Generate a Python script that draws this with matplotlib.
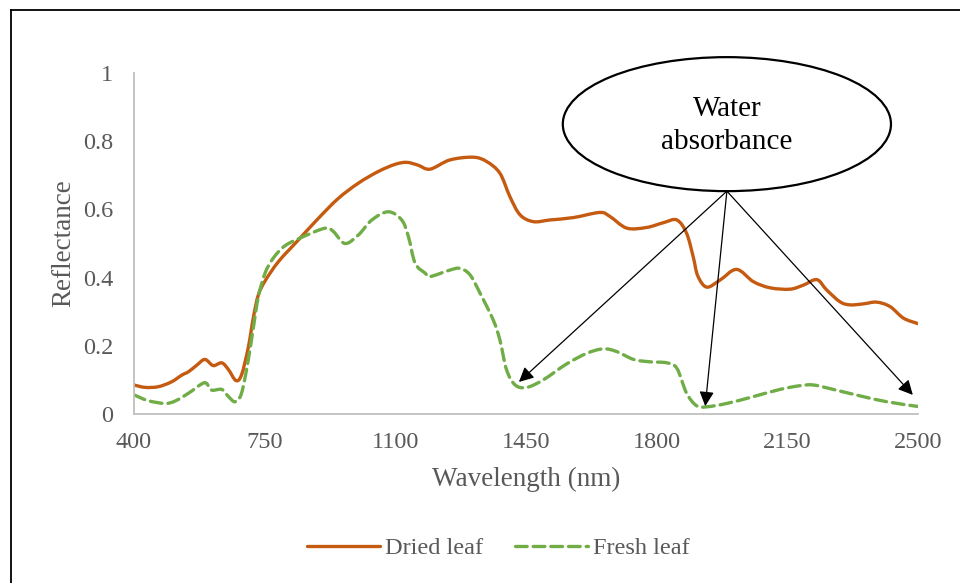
import matplotlib
matplotlib.use("Agg")
import matplotlib.pyplot as plt
import numpy as np
from matplotlib.lines import Line2D
from matplotlib.patches import Ellipse, PathPatch
from matplotlib.path import Path

plt.rcParams["font.family"] = ["Liberation Serif", "DejaVu Serif"]

# reflectance spectra, wavelength in nm
dried_wl = [400, 430, 465, 500, 528, 546, 568, 590, 612, 635, 653, 673, 688,
            706, 720, 733, 751, 787, 840, 894, 947, 1001, 1054, 1099, 1130,
            1160, 1193, 1246, 1309, 1345, 1380, 1407, 1434, 1470, 1514, 1577,
            1648, 1675, 1720, 1773, 1818, 1854, 1880, 1898, 1910, 1934, 1970,
            2014, 2059, 2104, 2157, 2193, 2229, 2255, 2291, 2318, 2354, 2389,
            2425, 2461, 2500]
dried_refl = [0.085, 0.078, 0.080, 0.094, 0.114, 0.124, 0.143, 0.160, 0.142,
              0.150, 0.130, 0.098, 0.115, 0.195, 0.285, 0.349, 0.390, 0.447,
              0.510, 0.574, 0.632, 0.677, 0.711, 0.732, 0.738, 0.730, 0.718,
              0.745, 0.753, 0.740, 0.706, 0.637, 0.584, 0.564, 0.569, 0.576,
              0.591, 0.579, 0.545, 0.547, 0.561, 0.569, 0.530, 0.460, 0.405,
              0.372, 0.393, 0.424, 0.388, 0.370, 0.366, 0.378, 0.394, 0.364,
              0.329, 0.320, 0.323, 0.328, 0.315, 0.281, 0.265]

fresh_wl = [400, 438, 483, 510, 546, 581, 594, 608, 635, 653, 671, 688, 706,
            720, 733, 751, 773, 804, 849, 912, 934, 965, 1001, 1037, 1081,
            1117, 1135, 1153, 1180, 1193, 1246, 1273, 1300, 1327, 1362, 1380,
            1398, 1421, 1452, 1496, 1559, 1613, 1657, 1693, 1738, 1782, 1827,
            1854, 1880, 1907, 1934, 1988, 2059, 2130, 2184, 2220, 2273, 2345,
            2416, 2500]
fresh_refl = [0.056, 0.039, 0.031, 0.038, 0.061, 0.088, 0.090, 0.070, 0.072,
              0.051, 0.036, 0.061, 0.158, 0.256, 0.344, 0.413, 0.457, 0.493,
              0.518, 0.545, 0.535, 0.500, 0.525, 0.569, 0.593, 0.569, 0.520,
              0.442, 0.413, 0.403, 0.422, 0.427, 0.408, 0.354, 0.276, 0.217,
              0.129, 0.085, 0.078, 0.100, 0.147, 0.178, 0.191, 0.183, 0.160,
              0.153, 0.150, 0.134, 0.061, 0.024, 0.021, 0.031, 0.051, 0.072,
              0.083, 0.085, 0.072, 0.053, 0.036, 0.022]

x_ticks = [400, 750, 1100, 1450, 1800, 2150, 2500]
y_ticks = [0, 0.2, 0.4, 0.6, 0.8, 1]
y_tick_labels = ["0", "0.2", "0.4", "0.6", "0.8", "1"]

# water absorption bands pointed at from the callout
water_bands = [(1431, 0.094), (1930, 0.023), (2486, 0.056)]

grey = "#595959"
dried_color = "#C55A11"
fresh_color = "#70AD47"
fresh_dash = (0, (3.5, 1.8))


def smoothed_path(x, y):
    """Bezier path through the points, like a spreadsheet 'smoothed line'."""
    pts = np.column_stack([x, y]).astype(float)
    n = len(pts)
    verts = [pts[0]]
    codes = [Path.MOVETO]
    for i in range(n - 1):
        p0 = pts[max(i - 1, 0)]
        p1 = pts[i]
        p2 = pts[i + 1]
        p3 = pts[min(i + 2, n - 1)]
        verts += [p1 + (p2 - p0) / 6, p2 - (p3 - p1) / 6, p2]
        codes += [Path.CURVE4] * 3
    return Path(verts, codes)


fig = plt.figure(figsize=(9.6, 5.83), dpi=100)
ax = fig.add_axes([0.1396, 0.2899, 0.8167, 0.5849])

ax.add_patch(PathPatch(smoothed_path(dried_wl, dried_refl), fill=False,
                       edgecolor=dried_color, lw=2.4, capstyle="round",
                       joinstyle="round"))
ax.add_patch(PathPatch(smoothed_path(fresh_wl, fresh_refl), fill=False,
                       edgecolor=fresh_color, lw=2.4, linestyle=fresh_dash,
                       capstyle="round", joinstyle="round"))

ax.set_xlim(400, 2500)
ax.set_ylim(0, 1)
ax.set_xticks(x_ticks)
ax.set_yticks(y_ticks)
ax.set_yticklabels(y_tick_labels)
ax.tick_params(length=0, labelsize=17.5, colors=grey, pad=13)
ax.tick_params(axis="y", pad=15)
for side in ["top", "right"]:
    ax.spines[side].set_visible(False)
for side in ["left", "bottom"]:
    ax.spines[side].set_color("#BFBFBF")
    ax.spines[side].set_linewidth(1.3)

ax.set_xlabel("Wavelength (nm)", fontsize=19.5, color=grey, labelpad=10)
ax.set_ylabel("Reflectance", fontsize=19.5, color=grey, labelpad=5)

# callout
ell = Ellipse((1988, 0.85), 879, 0.393, fill=True, facecolor="white",
              edgecolor="black", lw=1.6, clip_on=False, zorder=5)
ax.add_patch(ell)
ax.text(1988, 0.845, "Water\nabsorbance", ha="center", va="center",
        fontsize=21, color="black", linespacing=1.35, zorder=6)
for wl, r in water_bands:
    ax.annotate("", xy=(wl, r), xytext=(1988, 0.6535),
                arrowprops=dict(arrowstyle="-|>", lw=0.9, color="black",
                                mutation_scale=22, shrinkA=0, shrinkB=0),
                zorder=7)

handles = [
    Line2D([], [], color=dried_color, lw=2.4, solid_capstyle="round"),
    Line2D([], [], color=fresh_color, lw=2.4, ls=fresh_dash,
           dash_capstyle="round"),
]
fig.legend(handles, ["Dried leaf", "Fresh leaf"], loc="center",
           bbox_to_anchor=(0.519, 0.06), ncol=2, frameon=False,
           fontsize=17.5, handlelength=3.0, handletextpad=0.2,
           columnspacing=1.3, labelcolor=grey)

# chart border
fig.add_artist(Line2D([11 / 960, 1.0], [1 - 10 / 583, 1 - 10 / 583],
                      transform=fig.transFigure, color="black", lw=1.3))
fig.add_artist(Line2D([11 / 960, 11 / 960], [0.0, 1 - 10 / 583],
                      transform=fig.transFigure, color="black", lw=1.3))

fig.savefig("out.png", dpi=100)
